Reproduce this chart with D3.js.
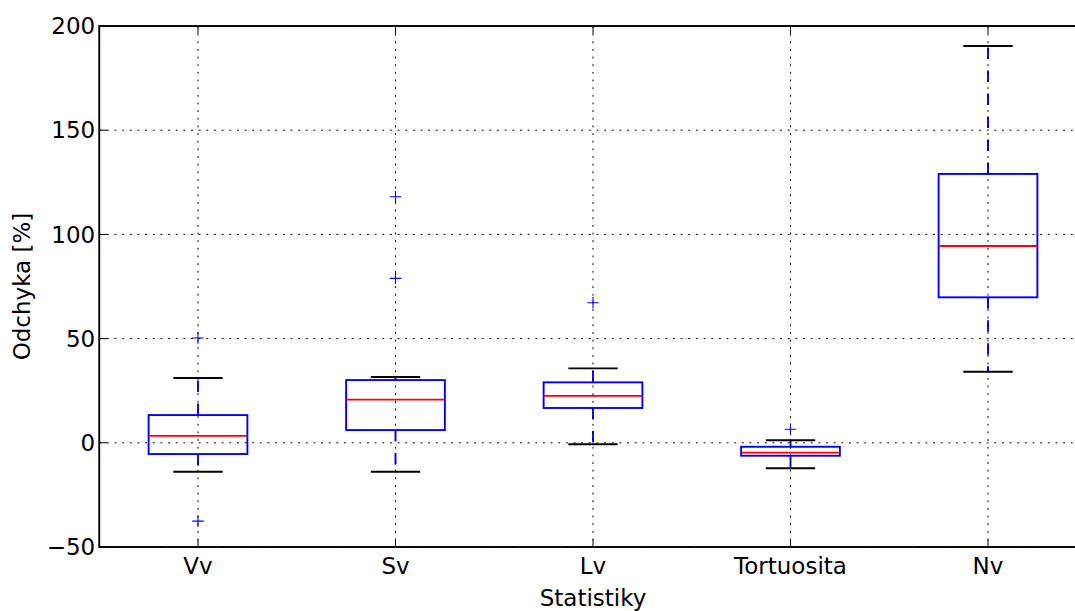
<!DOCTYPE html>
<html>
<head>
<meta charset="utf-8">
<script src="https://cdn.jsdelivr.net/npm/d3@7"></script>
<style>
  body { margin: 0; background: #fff; }
  svg { display: block; font-family: "DejaVu Sans", sans-serif; }
</style>
</head>
<body>
<svg width="1075" height="611"></svg>
<script>
// Data
let categories = ['Vv', 'Sv', 'Lv', 'Tortuosita', 'Nv']
let whiskerLow = [-13.9, -13.9, -0.7, -12.2, 34.1]
let q1 = [-5.4, 6.1, 16.7, -6.2, 69.8]
let median = [3.3, 20.7, 22.5, -4.7, 94.4]
let q3 = [13.3, 30.1, 29.0, -1.9, 129.0]
let whiskerHigh = [31.1, 31.6, 35.7, 1.2, 190.4]
let outliers = [[50.3, -37.6], [118.1, 78.9], [67.2], [6.5], []]
let yTicks = [-50, 0, 50, 100, 150, 200]

let boxes = categories.map((c, i) => ({
    name: c,
    lo: whiskerLow[i], q1: q1[i], med: median[i], q3: q3[i], hi: whiskerHigh[i],
    out: outliers[i]
}))

let svg = d3.select('svg')
let plotL = 99.25, plotR = 1086.75, plotT = 26, plotB = 547
let lw = 1.9
let fontSize = 23

let scale = {
    x: d3.scaleBand().domain(categories).range([plotL, plotR]).padding(0),
    y: d3.scaleLinear().domain([-50, 200]).range([plotB, plotT])
}
let cx = d => scale.x(d) + scale.x.bandwidth() / 2
let boxW = scale.x.bandwidth() * 0.5
let capW = boxW * 0.5

let g = svg.append('g')

let item = g.selectAll('g.box').data(boxes).join('g').attr('class', 'box')

// whiskers
item.append('line')
    .attr('x1', d => cx(d.name)).attr('x2', d => cx(d.name))
    .attr('y1', d => scale.y(d.q3)).attr('y2', d => scale.y(d.hi))
    .attr('stroke', '#0000ff').attr('stroke-width', lw).attr('stroke-dasharray', '11.5,11.5')
item.append('line')
    .attr('x1', d => cx(d.name)).attr('x2', d => cx(d.name))
    .attr('y1', d => scale.y(d.q1)).attr('y2', d => scale.y(d.lo))
    .attr('stroke', '#0000ff').attr('stroke-width', lw).attr('stroke-dasharray', '11.5,11.5')

// caps
for (let key of ['hi', 'lo']) {
    item.append('line')
        .attr('x1', d => cx(d.name) - capW / 2).attr('x2', d => cx(d.name) + capW / 2)
        .attr('y1', d => scale.y(d[key])).attr('y2', d => scale.y(d[key]))
        .attr('stroke', '#000').attr('stroke-width', lw)
}

// box
item.append('rect')
    .attr('x', d => cx(d.name) - boxW / 2)
    .attr('width', boxW)
    .attr('y', d => scale.y(d.q3))
    .attr('height', d => scale.y(d.q1) - scale.y(d.q3))
    .attr('fill', 'none').attr('stroke', '#0000ff').attr('stroke-width', lw)

// median
item.append('line')
    .attr('x1', d => cx(d.name) - boxW / 2).attr('x2', d => cx(d.name) + boxW / 2)
    .attr('y1', d => scale.y(d.med)).attr('y2', d => scale.y(d.med))
    .attr('stroke', '#ff0000').attr('stroke-width', lw)

// fliers
item.each(function (d) {
    let s = d3.select(this)
    d.out.forEach(v => {
        let x = cx(d.name), y = scale.y(v)
        s.append('path')
            .attr('d', `M${x - 5.75},${y}H${x + 5.75}M${x},${y - 5.75}V${y + 5.75}`)
            .attr('stroke', '#0000ff').attr('stroke-width', 1.1).attr('fill', 'none')
    })
})

// grid (drawn above the data, as in the classic style)
let grid = svg.append('g').attr('stroke', '#000').attr('stroke-width', 1)
    .attr('stroke-dasharray', '1.9,5.75')
grid.selectAll('line.gy').data(yTicks).join('line').attr('class', 'gy')
    .attr('x1', plotL).attr('x2', plotR)
    .attr('y1', d => scale.y(d)).attr('y2', d => scale.y(d))
grid.selectAll('line.gx').data(categories).join('line').attr('class', 'gx')
    .attr('x1', d => cx(d)).attr('x2', d => cx(d))
    .attr('y1', plotT).attr('y2', plotB)

// ticks (inward, on all sides)
let tl = 7.7
let ticks = svg.append('g').attr('stroke', '#000').attr('stroke-width', 1)
ticks.selectAll('line.ty').data(yTicks).join('line')
    .attr('x1', plotL).attr('x2', plotL + tl)
    .attr('y1', d => scale.y(d)).attr('y2', d => scale.y(d))
ticks.selectAll('line.tyr').data(yTicks).join('line')
    .attr('x1', plotR).attr('x2', plotR - tl)
    .attr('y1', d => scale.y(d)).attr('y2', d => scale.y(d))
ticks.selectAll('line.tx').data(categories).join('line')
    .attr('x1', d => cx(d)).attr('x2', d => cx(d))
    .attr('y1', plotB).attr('y2', plotB - tl)
ticks.selectAll('line.txt').data(categories).join('line')
    .attr('x1', d => cx(d)).attr('x2', d => cx(d))
    .attr('y1', plotT).attr('y2', plotT + tl)

// frame
svg.append('rect')
    .attr('x', plotL).attr('y', plotT)
    .attr('width', plotR - plotL).attr('height', plotB - plotT)
    .attr('fill', 'none').attr('stroke', '#000').attr('stroke-width', lw)

// tick labels
let fmt = d => d < 0 ? '\u2212' + Math.abs(d) : String(d)
svg.append('g').selectAll('text').data(yTicks).join('text')
    .attr('x', plotL - 4).attr('y', d => scale.y(d))
    .attr('dy', '0.36em').attr('text-anchor', 'end')
    .attr('font-size', fontSize).text(fmt)
svg.append('g').selectAll('text').data(categories).join('text')
    .attr('x', d => cx(d)).attr('y', 573.5)
    .attr('text-anchor', 'middle')
    .attr('font-size', fontSize).text(d => d)

// axis labels
svg.append('text')
    .attr('x', (plotL + plotR) / 2).attr('y', 605.5)
    .attr('text-anchor', 'middle').attr('font-size', fontSize)
    .text('Statistiky')
svg.append('text')
    .attr('transform', `translate(30, ${(plotT + plotB) / 2}) rotate(-90)`)
    .attr('text-anchor', 'middle').attr('font-size', fontSize)
    .text('Odchyka [%]')
</script>
</body>
</html>
